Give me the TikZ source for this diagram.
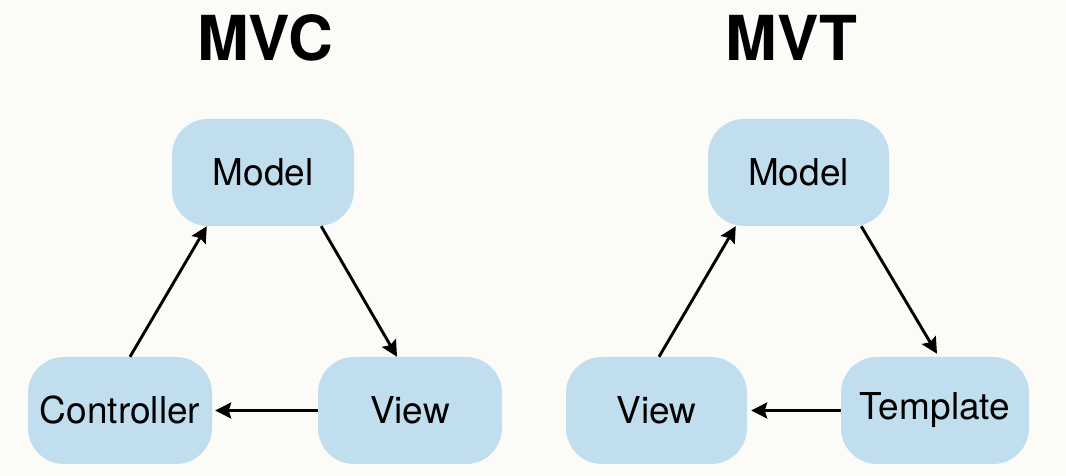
\documentclass[tikz,border=0pt]{standalone}
\usepackage{fontspec}
\setmainfont{TeX Gyre Heros}
\usetikzlibrary{arrows.meta,calc}
\definecolor{bg}{HTML}{FDFBF7}
\definecolor{boxfill}{HTML}{C0DEED}
\tikzset{
  x=1pt,y=1pt,
  blk/.style={fill=boxfill,draw=none,rounded corners=36pt,inner sep=0pt,
    minimum height=107pt,font=\fontsize{37}{44}\selectfont},
  ttl/.style={font=\fontsize{62}{70}\selectfont\bfseries},
  arr/.style={line width=2.9pt,-{Stealth[length=16pt,width=16pt,inset=2.5pt]}}
}
\begin{document}
\begin{tikzpicture}
\fill[bg] (0,0) rectangle (1066,476);
\useasboundingbox (0,0) rectangle (1066,476);
% MVC
\node[ttl] (t1) at (265,438.5) {MVC};
\node[blk,minimum width=182pt] (m1) at (263,303.5) {Model};
\node[blk,minimum width=184pt] (c1) at (120,65.5) {Controller};
\node[blk,minimum width=184pt] (v1) at (410,65.5) {View};
\draw[arr] ($(c1.north)+(10,0)$) -- ($(m1.south west)+(35,0)$);
\draw[arr] ($(m1.south east)+(-33,0)$) -- ($(v1.north)+(-13,0)$);
\draw[arr] (v1.west) -- ($(c1.east)+(3,0)$);
% MVT
\node[ttl] (t2) at (791.5,438.5) {MVT};
\node[blk,minimum width=181pt] (m2) at (798.5,303.5) {Model};
\node[blk,minimum width=181pt] (v2) at (656.5,65.5) {View};
\node[blk,minimum width=188pt] (tp2) at (935,65.5) {Template};
\draw[arr] ($(v2.north)+(2.5,0)$) -- ($(m2.south west)+(28,0)$);
\draw[arr] ($(m2.south east)+(-28,0)$) -- ($(tp2.north)+(2,3)$);
\draw[arr] (tp2.west) -- ($(v2.east)+(4,0)$);
\end{tikzpicture}
\end{document}
